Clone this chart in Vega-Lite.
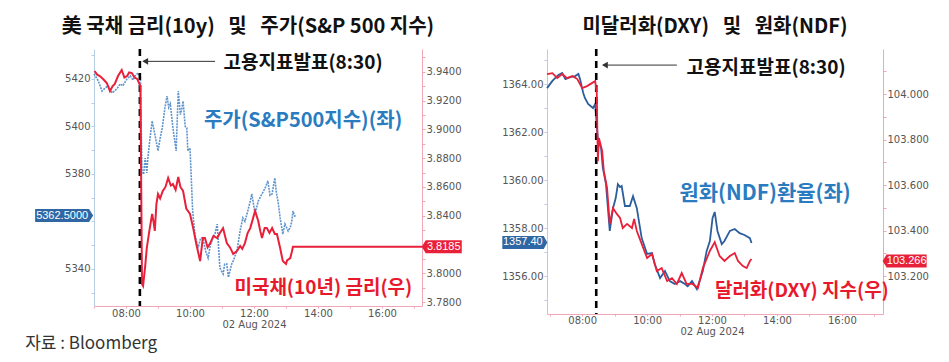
{
  "$schema": "https://vega.github.io/schema/vega-lite/v6.json",
  "autosize": {"type": "pad"},
  "padding": {"left": 25, "top": 16, "right": 2, "bottom": 2},
  "bounds": "flush",
  "spacing": 125,
  "config": {
    "view": {"stroke": null},
    "axis": {"grid": false, "labelFont": "DejaVu Sans", "labelFontSize": 10, "labelColor": "#555555", "tickSize": 3, "labelPadding": 1, "labelOverlap": false},
    "title": {"font": "Noto Sans CJK KR", "fontSize": 20, "fontWeight": "bold", "color": "#111111", "offset": 11, "anchor": "middle"}
  },
  "datasets": {
    "one": [{}],
    "spx": [
      {"t": "2024-08-02T07:00", "v": 5422.1}, {"t": "2024-08-02T07:08", "v": 5419.2}, {"t": "2024-08-02T07:15", "v": 5414.9}, {"t": "2024-08-02T07:21", "v": 5416.2},
      {"t": "2024-08-02T07:26", "v": 5417.1}, {"t": "2024-08-02T07:34", "v": 5414.1}, {"t": "2024-08-02T07:43", "v": 5415.8}, {"t": "2024-08-02T07:49", "v": 5417.9},
      {"t": "2024-08-02T07:54", "v": 5417.1}, {"t": "2024-08-02T08:02", "v": 5420.0}, {"t": "2024-08-02T08:08", "v": 5421.3}, {"t": "2024-08-02T08:13", "v": 5419.5},
      {"t": "2024-08-02T08:17", "v": 5421.3}, {"t": "2024-08-02T08:23", "v": 5422.5}, {"t": "2024-08-02T08:27", "v": 5420.4}, {"t": "2024-08-02T08:30", "v": 5381.3},
      {"t": "2024-08-02T08:33", "v": 5379.8}, {"t": "2024-08-02T08:36", "v": 5386.7}, {"t": "2024-08-02T08:39", "v": 5380.4}, {"t": "2024-08-02T08:41", "v": 5386.7},
      {"t": "2024-08-02T08:45", "v": 5395.0}, {"t": "2024-08-02T08:49", "v": 5402.3}, {"t": "2024-08-02T08:54", "v": 5396.8}, {"t": "2024-08-02T09:00", "v": 5389.7},
      {"t": "2024-08-02T09:04", "v": 5395.0}, {"t": "2024-08-02T09:08", "v": 5399.4}, {"t": "2024-08-02T09:13", "v": 5407.8}, {"t": "2024-08-02T09:17", "v": 5412.8},
      {"t": "2024-08-02T09:20", "v": 5408.0}, {"t": "2024-08-02T09:23", "v": 5409.5}, {"t": "2024-08-02T09:28", "v": 5399.4}, {"t": "2024-08-02T09:34", "v": 5389.7},
      {"t": "2024-08-02T09:38", "v": 5414.9}, {"t": "2024-08-02T09:42", "v": 5405.0}, {"t": "2024-08-02T09:45", "v": 5407.8}, {"t": "2024-08-02T09:47", "v": 5410.7},
      {"t": "2024-08-02T09:51", "v": 5400.0}, {"t": "2024-08-02T09:54", "v": 5399.4}, {"t": "2024-08-02T09:56", "v": 5389.7}, {"t": "2024-08-02T10:00", "v": 5390.9},
      {"t": "2024-08-02T10:05", "v": 5364.4}, {"t": "2024-08-02T10:09", "v": 5354.7}, {"t": "2024-08-02T10:15", "v": 5348.8}, {"t": "2024-08-02T10:20", "v": 5353.0},
      {"t": "2024-08-02T10:24", "v": 5353.1}, {"t": "2024-08-02T10:30", "v": 5347.0}, {"t": "2024-08-02T10:34", "v": 5344.6}, {"t": "2024-08-02T10:38", "v": 5350.0},
      {"t": "2024-08-02T10:43", "v": 5353.1}, {"t": "2024-08-02T10:47", "v": 5355.0}, {"t": "2024-08-02T10:51", "v": 5358.9}, {"t": "2024-08-02T10:56", "v": 5340.4},
      {"t": "2024-08-02T11:02", "v": 5337.9}, {"t": "2024-08-02T11:05", "v": 5342.0}, {"t": "2024-08-02T11:09", "v": 5342.1}, {"t": "2024-08-02T11:12", "v": 5336.5},
      {"t": "2024-08-02T11:15", "v": 5339.2}, {"t": "2024-08-02T11:18", "v": 5342.0}, {"t": "2024-08-02T11:21", "v": 5343.4}, {"t": "2024-08-02T11:28", "v": 5347.6},
      {"t": "2024-08-02T11:34", "v": 5356.0}, {"t": "2024-08-02T11:39", "v": 5361.5}, {"t": "2024-08-02T11:43", "v": 5360.0}, {"t": "2024-08-02T11:47", "v": 5363.2},
      {"t": "2024-08-02T11:53", "v": 5368.6}, {"t": "2024-08-02T11:56", "v": 5371.6}, {"t": "2024-08-02T12:02", "v": 5363.2}, {"t": "2024-08-02T12:08", "v": 5368.6},
      {"t": "2024-08-02T12:15", "v": 5371.6}, {"t": "2024-08-02T12:21", "v": 5374.1}, {"t": "2024-08-02T12:26", "v": 5377.1}, {"t": "2024-08-02T12:30", "v": 5371.0},
      {"t": "2024-08-02T12:34", "v": 5371.6}, {"t": "2024-08-02T12:39", "v": 5378.3}, {"t": "2024-08-02T12:42", "v": 5372.0}, {"t": "2024-08-02T12:45", "v": 5368.6},
      {"t": "2024-08-02T12:49", "v": 5361.5}, {"t": "2024-08-02T12:54", "v": 5354.7}, {"t": "2024-08-02T12:58", "v": 5358.9}, {"t": "2024-08-02T13:04", "v": 5356.0},
      {"t": "2024-08-02T13:08", "v": 5357.5}, {"t": "2024-08-02T13:11", "v": 5360.2}, {"t": "2024-08-02T13:13", "v": 5364.4}, {"t": "2024-08-02T13:16", "v": 5362.3},
      {"t": "2024-08-02T13:19", "v": 5362.5}
    ],
    "ust": [
      {"t": "2024-08-02T07:01", "v": 3.9405}, {"t": "2024-08-02T07:06", "v": 3.938}, {"t": "2024-08-02T07:11", "v": 3.937}, {"t": "2024-08-02T07:17", "v": 3.935},
      {"t": "2024-08-02T07:24", "v": 3.9322}, {"t": "2024-08-02T07:30", "v": 3.9266}, {"t": "2024-08-02T07:35", "v": 3.93}, {"t": "2024-08-02T07:39", "v": 3.9315},
      {"t": "2024-08-02T07:45", "v": 3.937}, {"t": "2024-08-02T07:52", "v": 3.9412}, {"t": "2024-08-02T07:57", "v": 3.936}, {"t": "2024-08-02T08:02", "v": 3.937},
      {"t": "2024-08-02T08:06", "v": 3.9395}, {"t": "2024-08-02T08:11", "v": 3.9391}, {"t": "2024-08-02T08:16", "v": 3.936}, {"t": "2024-08-02T08:21", "v": 3.935},
      {"t": "2024-08-02T08:27", "v": 3.9301}, {"t": "2024-08-02T08:30", "v": 3.7926}, {"t": "2024-08-02T08:32", "v": 3.7912}, {"t": "2024-08-02T08:36", "v": 3.805},
      {"t": "2024-08-02T08:39", "v": 3.8176}, {"t": "2024-08-02T08:44", "v": 3.83}, {"t": "2024-08-02T08:49", "v": 3.8412}, {"t": "2024-08-02T08:52", "v": 3.835},
      {"t": "2024-08-02T08:54", "v": 3.8294}, {"t": "2024-08-02T08:57", "v": 3.848}, {"t": "2024-08-02T09:00", "v": 3.8551}, {"t": "2024-08-02T09:04", "v": 3.852},
      {"t": "2024-08-02T09:09", "v": 3.8572}, {"t": "2024-08-02T09:14", "v": 3.86}, {"t": "2024-08-02T09:19", "v": 3.8662}, {"t": "2024-08-02T09:24", "v": 3.861},
      {"t": "2024-08-02T09:28", "v": 3.862}, {"t": "2024-08-02T09:33", "v": 3.858}, {"t": "2024-08-02T09:38", "v": 3.8669}, {"t": "2024-08-02T09:42", "v": 3.86},
      {"t": "2024-08-02T09:47", "v": 3.8572}, {"t": "2024-08-02T09:53", "v": 3.845}, {"t": "2024-08-02T10:00", "v": 3.8412}, {"t": "2024-08-02T10:06", "v": 3.8314},
      {"t": "2024-08-02T10:12", "v": 3.82}, {"t": "2024-08-02T10:19", "v": 3.8085}, {"t": "2024-08-02T10:24", "v": 3.8245}, {"t": "2024-08-02T10:28", "v": 3.8245},
      {"t": "2024-08-02T10:33", "v": 3.818}, {"t": "2024-08-02T10:38", "v": 3.821}, {"t": "2024-08-02T10:44", "v": 3.826}, {"t": "2024-08-02T10:51", "v": 3.8245},
      {"t": "2024-08-02T10:56", "v": 3.828}, {"t": "2024-08-02T11:02", "v": 3.8314}, {"t": "2024-08-02T11:09", "v": 3.821}, {"t": "2024-08-02T11:15", "v": 3.818},
      {"t": "2024-08-02T11:21", "v": 3.8134}, {"t": "2024-08-02T11:28", "v": 3.8155}, {"t": "2024-08-02T11:34", "v": 3.819}, {"t": "2024-08-02T11:38", "v": 3.817},
      {"t": "2024-08-02T11:43", "v": 3.821}, {"t": "2024-08-02T11:48", "v": 3.828}, {"t": "2024-08-02T11:53", "v": 3.8314}, {"t": "2024-08-02T11:58", "v": 3.838},
      {"t": "2024-08-02T12:02", "v": 3.8433}, {"t": "2024-08-02T12:08", "v": 3.8363}, {"t": "2024-08-02T12:12", "v": 3.829}, {"t": "2024-08-02T12:15", "v": 3.8245},
      {"t": "2024-08-02T12:20", "v": 3.8314}, {"t": "2024-08-02T12:24", "v": 3.8314}, {"t": "2024-08-02T12:29", "v": 3.828}, {"t": "2024-08-02T12:34", "v": 3.8314},
      {"t": "2024-08-02T12:39", "v": 3.8273}, {"t": "2024-08-02T12:43", "v": 3.8273}, {"t": "2024-08-02T12:49", "v": 3.8176}, {"t": "2024-08-02T12:54", "v": 3.8085},
      {"t": "2024-08-02T13:00", "v": 3.8065}, {"t": "2024-08-02T13:02", "v": 3.809}, {"t": "2024-08-02T13:08", "v": 3.8106}, {"t": "2024-08-02T13:11", "v": 3.815},
      {"t": "2024-08-02T13:13", "v": 3.8185}, {"t": "2024-08-02T17:15", "v": 3.8185}
    ],
    "ndf": [
      {"t": "2024-08-02T06:55", "v": 1363.83}, {"t": "2024-08-02T07:05", "v": 1364.13}, {"t": "2024-08-02T07:16", "v": 1364.38}, {"t": "2024-08-02T07:23", "v": 1364.46},
      {"t": "2024-08-02T07:29", "v": 1364.21}, {"t": "2024-08-02T07:38", "v": 1364.29}, {"t": "2024-08-02T07:47", "v": 1364.33}, {"t": "2024-08-02T07:53", "v": 1364.42},
      {"t": "2024-08-02T07:56", "v": 1364.21}, {"t": "2024-08-02T08:02", "v": 1363.63}, {"t": "2024-08-02T08:05", "v": 1363.42}, {"t": "2024-08-02T08:11", "v": 1363.17},
      {"t": "2024-08-02T08:20", "v": 1363.0}, {"t": "2024-08-02T08:24", "v": 1363.17}, {"t": "2024-08-02T08:27", "v": 1362.25}, {"t": "2024-08-02T08:29", "v": 1361.71},
      {"t": "2024-08-02T08:35", "v": 1361.33}, {"t": "2024-08-02T08:38", "v": 1360.54}, {"t": "2024-08-02T08:44", "v": 1359.83}, {"t": "2024-08-02T08:48", "v": 1358.71},
      {"t": "2024-08-02T08:51", "v": 1357.88}, {"t": "2024-08-02T08:57", "v": 1358.83}, {"t": "2024-08-02T09:02", "v": 1359.25}, {"t": "2024-08-02T09:06", "v": 1359.83},
      {"t": "2024-08-02T09:10", "v": 1359.71}, {"t": "2024-08-02T09:13", "v": 1359.75}, {"t": "2024-08-02T09:19", "v": 1358.92}, {"t": "2024-08-02T09:28", "v": 1358.92},
      {"t": "2024-08-02T09:34", "v": 1359.33}, {"t": "2024-08-02T09:41", "v": 1358.83}, {"t": "2024-08-02T09:50", "v": 1357.58}, {"t": "2024-08-02T10:00", "v": 1356.92},
      {"t": "2024-08-02T10:09", "v": 1356.96}, {"t": "2024-08-02T10:14", "v": 1356.5}, {"t": "2024-08-02T10:24", "v": 1355.92}, {"t": "2024-08-02T10:33", "v": 1356.21},
      {"t": "2024-08-02T10:42", "v": 1355.79}, {"t": "2024-08-02T10:51", "v": 1355.67}, {"t": "2024-08-02T11:01", "v": 1355.79}, {"t": "2024-08-02T11:10", "v": 1355.67},
      {"t": "2024-08-02T11:15", "v": 1355.58}, {"t": "2024-08-02T11:23", "v": 1355.79}, {"t": "2024-08-02T11:32", "v": 1355.46}, {"t": "2024-08-02T11:37", "v": 1355.79},
      {"t": "2024-08-02T11:43", "v": 1356.21}, {"t": "2024-08-02T11:50", "v": 1357.04}, {"t": "2024-08-02T11:56", "v": 1357.46}, {"t": "2024-08-02T12:01", "v": 1358.42},
      {"t": "2024-08-02T12:05", "v": 1358.67}, {"t": "2024-08-02T12:10", "v": 1357.88}, {"t": "2024-08-02T12:18", "v": 1357.33}, {"t": "2024-08-02T12:23", "v": 1357.46},
      {"t": "2024-08-02T12:33", "v": 1357.88}, {"t": "2024-08-02T12:42", "v": 1357.96}, {"t": "2024-08-02T12:51", "v": 1357.79}, {"t": "2024-08-02T13:00", "v": 1357.71},
      {"t": "2024-08-02T13:10", "v": 1357.58}, {"t": "2024-08-02T13:13", "v": 1357.38}
    ],
    "dxy": [
      {"t": "2024-08-02T06:55", "v": 104.088}, {"t": "2024-08-02T07:05", "v": 104.092}, {"t": "2024-08-02T07:14", "v": 104.07}, {"t": "2024-08-02T07:23", "v": 104.088},
      {"t": "2024-08-02T07:32", "v": 104.07}, {"t": "2024-08-02T07:42", "v": 104.079}, {"t": "2024-08-02T07:51", "v": 104.066}, {"t": "2024-08-02T08:00", "v": 104.026},
      {"t": "2024-08-02T08:09", "v": 104.035}, {"t": "2024-08-02T08:18", "v": 104.048}, {"t": "2024-08-02T08:24", "v": 104.057}, {"t": "2024-08-02T08:27", "v": 104.004},
      {"t": "2024-08-02T08:29", "v": 103.705}, {"t": "2024-08-02T08:31", "v": 103.807}, {"t": "2024-08-02T08:37", "v": 103.749}, {"t": "2024-08-02T08:40", "v": 103.662},
      {"t": "2024-08-02T08:46", "v": 103.587}, {"t": "2024-08-02T08:51", "v": 103.429}, {"t": "2024-08-02T08:57", "v": 103.499}, {"t": "2024-08-02T09:04", "v": 103.473},
      {"t": "2024-08-02T09:10", "v": 103.455}, {"t": "2024-08-02T09:15", "v": 103.411}, {"t": "2024-08-02T09:23", "v": 103.429}, {"t": "2024-08-02T09:32", "v": 103.411},
      {"t": "2024-08-02T09:36", "v": 103.451}, {"t": "2024-08-02T09:41", "v": 103.398}, {"t": "2024-08-02T09:50", "v": 103.341}, {"t": "2024-08-02T10:00", "v": 103.279},
      {"t": "2024-08-02T10:09", "v": 103.297}, {"t": "2024-08-02T10:18", "v": 103.222}, {"t": "2024-08-02T10:27", "v": 103.235}, {"t": "2024-08-02T10:37", "v": 103.178},
      {"t": "2024-08-02T10:46", "v": 103.191}, {"t": "2024-08-02T10:55", "v": 103.165}, {"t": "2024-08-02T11:04", "v": 103.213}, {"t": "2024-08-02T11:13", "v": 103.165},
      {"t": "2024-08-02T11:24", "v": 103.165}, {"t": "2024-08-02T11:34", "v": 103.147}, {"t": "2024-08-02T11:43", "v": 103.235}, {"t": "2024-08-02T11:56", "v": 103.31},
      {"t": "2024-08-02T12:05", "v": 103.349}, {"t": "2024-08-02T12:14", "v": 103.288}, {"t": "2024-08-02T12:23", "v": 103.266}, {"t": "2024-08-02T12:33", "v": 103.288},
      {"t": "2024-08-02T12:42", "v": 103.301}, {"t": "2024-08-02T12:48", "v": 103.266}, {"t": "2024-08-02T12:57", "v": 103.244}, {"t": "2024-08-02T13:04", "v": 103.235},
      {"t": "2024-08-02T13:10", "v": 103.266}, {"t": "2024-08-02T13:13", "v": 103.275}
    ]
  },
  "hconcat": [
    {
      "width": 328,
      "height": 257,
      "title": {"text": "美 국채 금리(10y)\u00a0\u00a0 및\u00a0\u00a0 주가(S&P 500 지수)", "dx": -10},
      "layer": [
        {
          "layer": [
            {
              "data": {"name": "spx"},
              "mark": {"type": "line", "color": "#5f93cc", "strokeWidth": 1.6, "strokeDash": [2, 1]},
              "encoding": {
                "x": {"field": "t", "type": "temporal",
                  "scale": {"domain": [{"year": 2024, "month": 8, "date": 2, "hours": 7}, {"year": 2024, "month": 8, "date": 2, "hours": 17, "minutes": 15}]},
                  "axis": {"title": null, "labelOverlap": false, "tickCount": 40, "values": [{"year": 2024, "month": 8, "date": 2, "hours": 7}, {"year": 2024, "month": 8, "date": 2, "hours": 8}, {"year": 2024, "month": 8, "date": 2, "hours": 9}, {"year": 2024, "month": 8, "date": 2, "hours": 10}, {"year": 2024, "month": 8, "date": 2, "hours": 11}, {"year": 2024, "month": 8, "date": 2, "hours": 12}, {"year": 2024, "month": 8, "date": 2, "hours": 13}, {"year": 2024, "month": 8, "date": 2, "hours": 14}, {"year": 2024, "month": 8, "date": 2, "hours": 15}, {"year": 2024, "month": 8, "date": 2, "hours": 16}, {"year": 2024, "month": 8, "date": 2, "hours": 17}],
                    "labelExpr": "hours(datum.value) % 2 == 0 ? (hours(datum.value) == 12 ? ['12:00', '02 Aug 2024'] : timeFormat(datum.value, '%H:%M')) : ''",
                    "domainColor": "#f2a7b8", "tickColor": "#f2a7b8", "tickSize": 2, "labelLineHeight": 11, "labelPadding": 0}},
                "y": {"field": "v", "type": "quantitative",
                  "scale": {"domain": [5324.4, 5432.6], "nice": false, "zero": false},
                  "axis": {"title": null, "labelOverlap": false, "tickCount": 40, "orient": "left", "values": [5330, 5340, 5350, 5360, 5370, 5380, 5390, 5400, 5410, 5420, 5430], "format": "d",
                    "labelExpr": "datum.value % 20 == 0 && datum.value != 5360 ? datum.label : ''", "domainColor": "#b7cde3", "tickColor": "#b7cde3"}}
              }
            },
            {
              "data": {"name": "one"},
              "mark": {"type": "rule", "color": "#000000", "strokeWidth": 2.6, "strokeDash": [7, 5]},
              "encoding": {
                "x": {"datum": {"year": 2024, "month": 8, "date": 2, "hours": 8, "minutes": 26}, "type": "temporal",
                  "scale": {"domain": [{"year": 2024, "month": 8, "date": 2, "hours": 7}, {"year": 2024, "month": 8, "date": 2, "hours": 17, "minutes": 15}]}}
              }
            },
            {
              "data": {"name": "one"},
              "mark": {"type": "rule", "color": "#333333", "strokeWidth": 1},
              "encoding": {
                "x": {"datum": {"year": 2024, "month": 8, "date": 2, "hours": 8, "minutes": 33}, "type": "temporal",
                  "scale": {"domain": [{"year": 2024, "month": 8, "date": 2, "hours": 7}, {"year": 2024, "month": 8, "date": 2, "hours": 17, "minutes": 15}]}},
                "x2": {"datum": {"year": 2024, "month": 8, "date": 2, "hours": 10, "minutes": 47}},
                "y": {"datum": 5427.4, "type": "quantitative", "scale": {"domain": [5324.4, 5432.6], "nice": false, "zero": false}}
              }
            },
            {
              "data": {"name": "one"},
              "mark": {"type": "point", "shape": "triangle-left", "filled": true, "color": "#333333", "size": 45, "opacity": 1},
              "encoding": {
                "x": {"datum": {"year": 2024, "month": 8, "date": 2, "hours": 8, "minutes": 36}, "type": "temporal",
                  "scale": {"domain": [{"year": 2024, "month": 8, "date": 2, "hours": 7}, {"year": 2024, "month": 8, "date": 2, "hours": 17, "minutes": 15}]}},
                "y": {"datum": 5427.4, "type": "quantitative", "scale": {"domain": [5324.4, 5432.6], "nice": false, "zero": false}}
              }
            },
            {
              "data": {"name": "one"},
              "mark": {"type": "text", "text": "고용지표발표(8:30)", "font": "Noto Sans CJK KR", "fontWeight": "bold", "fontSize": 19, "color": "#111111", "align": "center", "baseline": "middle"},
              "encoding": {
                "x": {"datum": {"year": 2024, "month": 8, "date": 2, "hours": 13, "minutes": 32}, "type": "temporal",
                  "scale": {"domain": [{"year": 2024, "month": 8, "date": 2, "hours": 7}, {"year": 2024, "month": 8, "date": 2, "hours": 17, "minutes": 15}]}},
                "y": {"datum": 5426.7, "type": "quantitative", "scale": {"domain": [5324.4, 5432.6], "nice": false, "zero": false}}
              }
            },
            {
              "data": {"name": "one"},
              "mark": {"type": "text", "text": "주가(S&P500지수)(좌)", "font": "Noto Sans CJK KR", "fontWeight": "bold", "fontSize": 20, "color": "#2a7bc0", "align": "center", "baseline": "middle"},
              "encoding": {
                "x": {"datum": {"year": 2024, "month": 8, "date": 2, "hours": 13, "minutes": 32}, "type": "temporal",
                  "scale": {"domain": [{"year": 2024, "month": 8, "date": 2, "hours": 7}, {"year": 2024, "month": 8, "date": 2, "hours": 17, "minutes": 15}]}},
                "y": {"datum": 5402.3, "type": "quantitative", "scale": {"domain": [5324.4, 5432.6], "nice": false, "zero": false}}
              }
            },
            {
              "data": {"name": "one"},
              "mark": {"type": "text", "text": "미국채(10년) 금리(우)", "font": "Noto Sans CJK KR", "fontWeight": "bold", "fontSize": 19, "color": "#e8192c", "align": "center", "baseline": "middle"},
              "encoding": {
                "x": {"datum": {"year": 2024, "month": 8, "date": 2, "hours": 14, "minutes": 10}, "type": "temporal",
                  "scale": {"domain": [{"year": 2024, "month": 8, "date": 2, "hours": 7}, {"year": 2024, "month": 8, "date": 2, "hours": 17, "minutes": 15}]}},
                "y": {"datum": 5332.0, "type": "quantitative", "scale": {"domain": [5324.4, 5432.6], "nice": false, "zero": false}}
              }
            },
            {
              "data": {"name": "one"},
              "mark": {"type": "text", "text": "자료 : Bloomberg", "font": "Noto Sans CJK KR", "fontSize": 17, "color": "#333333", "align": "left", "baseline": "middle"},
              "encoding": {
                "x": {"datum": {"year": 2024, "month": 8, "date": 2, "hours": 4, "minutes": 51}, "type": "temporal",
                  "scale": {"domain": [{"year": 2024, "month": 8, "date": 2, "hours": 7}, {"year": 2024, "month": 8, "date": 2, "hours": 17, "minutes": 15}]}},
                "y": {"datum": 5308.4, "type": "quantitative", "scale": {"domain": [5324.4, 5432.6], "nice": false, "zero": false}}
              }
            },
            {
              "data": {"name": "one"},
              "mark": {"type": "point", "shape": "M-1,-0.224L0.86,-0.224L1,0L0.86,0.224L-1,0.224Z", "filled": true, "color": "#2e67a4", "size": 3364, "opacity": 1},
              "encoding": {
                "x": {"datum": {"year": 2024, "month": 8, "date": 2, "hours": 6, "minutes": 4}, "type": "temporal",
                  "scale": {"domain": [{"year": 2024, "month": 8, "date": 2, "hours": 7}, {"year": 2024, "month": 8, "date": 2, "hours": 17, "minutes": 15}]}},
                "y": {"datum": 5362.5, "type": "quantitative", "scale": {"domain": [5324.4, 5432.6], "nice": false, "zero": false}}
              }
            },
            {
              "data": {"name": "one"},
              "mark": {"type": "text", "text": "5362.5000", "font": "Liberation Sans", "fontSize": 11, "color": "#ffffff", "align": "center", "baseline": "middle", "dx": -2},
              "encoding": {
                "x": {"datum": {"year": 2024, "month": 8, "date": 2, "hours": 6, "minutes": 4}, "type": "temporal",
                  "scale": {"domain": [{"year": 2024, "month": 8, "date": 2, "hours": 7}, {"year": 2024, "month": 8, "date": 2, "hours": 17, "minutes": 15}]}},
                "y": {"datum": 5362.5, "type": "quantitative", "scale": {"domain": [5324.4, 5432.6], "nice": false, "zero": false}}
              }
            }
          ]
        },
        {
          "layer": [
            {
              "data": {"name": "ust"},
              "mark": {"type": "line", "color": "#e8203a", "strokeWidth": 2},
              "encoding": {
                "x": {"field": "t", "type": "temporal",
                  "scale": {"domain": [{"year": 2024, "month": 8, "date": 2, "hours": 7}, {"year": 2024, "month": 8, "date": 2, "hours": 17, "minutes": 15}]}},
                "y": {"field": "v", "type": "quantitative",
                  "scale": {"domain": [3.7773, 3.9558], "nice": false, "zero": false},
                  "axis": {"title": null, "labelOverlap": false, "tickCount": 40, "orient": "right", "values": [3.78, 3.79, 3.8, 3.81, 3.82, 3.83, 3.84, 3.85, 3.86, 3.87, 3.88, 3.89, 3.9, 3.91, 3.92, 3.93, 3.94, 3.95],
                    "labelExpr": "round(datum.value * 100) % 2 == 0 && round(datum.value * 100) != 382 ? format(datum.value, '.4f') : ''", "domainColor": "#f2a7b8", "tickColor": "#f2a7b8"}}
              }
            },
            {
              "data": {"name": "one"},
              "mark": {"type": "point", "shape": "M1,-0.325L-0.8,-0.325L-1,0L-0.8,0.325L1,0.325Z", "filled": true, "color": "#e8203a", "size": 1600, "opacity": 1},
              "encoding": {
                "x": {"datum": {"year": 2024, "month": 8, "date": 2, "hours": 17, "minutes": 52}, "type": "temporal",
                  "scale": {"domain": [{"year": 2024, "month": 8, "date": 2, "hours": 7}, {"year": 2024, "month": 8, "date": 2, "hours": 17, "minutes": 15}]}},
                "y": {"datum": 3.8185, "type": "quantitative", "scale": {"domain": [3.7773, 3.9558], "nice": false, "zero": false}}
              }
            },
            {
              "data": {"name": "one"},
              "mark": {"type": "text", "text": "3.8185", "font": "Liberation Sans", "fontSize": 11, "color": "#ffffff", "align": "center", "baseline": "middle", "dx": 2},
              "encoding": {
                "x": {"datum": {"year": 2024, "month": 8, "date": 2, "hours": 17, "minutes": 52}, "type": "temporal",
                  "scale": {"domain": [{"year": 2024, "month": 8, "date": 2, "hours": 7}, {"year": 2024, "month": 8, "date": 2, "hours": 17, "minutes": 15}]}},
                "y": {"datum": 3.8185, "type": "quantitative", "scale": {"domain": [3.7773, 3.9558], "nice": false, "zero": false}}
              }
            }
          ]
        }
      ],
      "resolve": {"scale": {"y": "independent"}, "axis": {"y": "independent"}}
    },
    {
      "width": 336,
      "height": 265,
      "title": {"text": "미달러화(DXY)\u00a0\u00a0 및\u00a0\u00a0 원화(NDF)"},
      "layer": [
        {
          "layer": [
            {
              "data": {"name": "ndf"},
              "mark": {"type": "line", "color": "#2c5e9e", "strokeWidth": 1.8},
              "encoding": {
                "x": {"field": "t", "type": "temporal",
                  "scale": {"domain": [{"year": 2024, "month": 8, "date": 2, "hours": 6, "minutes": 55}, {"year": 2024, "month": 8, "date": 2, "hours": 17, "minutes": 16}]},
                  "axis": {"title": null, "labelOverlap": false, "tickCount": 40, "values": [{"year": 2024, "month": 8, "date": 2, "hours": 7}, {"year": 2024, "month": 8, "date": 2, "hours": 8}, {"year": 2024, "month": 8, "date": 2, "hours": 9}, {"year": 2024, "month": 8, "date": 2, "hours": 10}, {"year": 2024, "month": 8, "date": 2, "hours": 11}, {"year": 2024, "month": 8, "date": 2, "hours": 12}, {"year": 2024, "month": 8, "date": 2, "hours": 13}, {"year": 2024, "month": 8, "date": 2, "hours": 14}, {"year": 2024, "month": 8, "date": 2, "hours": 15}, {"year": 2024, "month": 8, "date": 2, "hours": 16}, {"year": 2024, "month": 8, "date": 2, "hours": 17}],
                    "labelExpr": "hours(datum.value) % 2 == 0 ? (hours(datum.value) == 12 ? ['12:00', '02 Aug 2024'] : timeFormat(datum.value, '%H:%M')) : ''",
                    "domainColor": "#f2a7b8", "tickColor": "#f2a7b8", "tickSize": 2, "labelLineHeight": 11, "labelPadding": -1}},
                "y": {"field": "v", "type": "quantitative",
                  "scale": {"domain": [1354.42, 1365.46], "nice": false, "zero": false},
                  "axis": {"title": null, "labelOverlap": false, "tickCount": 40, "orient": "left", "values": [1355, 1356, 1357, 1358, 1359, 1360, 1361, 1362, 1363, 1364, 1365],
                    "labelExpr": "datum.value % 2 == 0 ? format(datum.value, '.2f') : ''", "domainColor": "#b7cde3", "tickColor": "#b7cde3"}}
              }
            },
            {
              "data": {"name": "one"},
              "mark": {"type": "rule", "color": "#000000", "strokeWidth": 2.6, "strokeDash": [7, 5]},
              "encoding": {
                "x": {"datum": {"year": 2024, "month": 8, "date": 2, "hours": 8, "minutes": 26}, "type": "temporal",
                  "scale": {"domain": [{"year": 2024, "month": 8, "date": 2, "hours": 6, "minutes": 55}, {"year": 2024, "month": 8, "date": 2, "hours": 17, "minutes": 16}]}}
              }
            },
            {
              "data": {"name": "one"},
              "mark": {"type": "rule", "color": "#333333", "strokeWidth": 1},
              "encoding": {
                "x": {"datum": {"year": 2024, "month": 8, "date": 2, "hours": 8, "minutes": 39}, "type": "temporal",
                  "scale": {"domain": [{"year": 2024, "month": 8, "date": 2, "hours": 6, "minutes": 55}, {"year": 2024, "month": 8, "date": 2, "hours": 17, "minutes": 16}]}},
                "x2": {"datum": {"year": 2024, "month": 8, "date": 2, "hours": 10, "minutes": 55}},
                "y": {"datum": 1364.79, "type": "quantitative", "scale": {"domain": [1354.42, 1365.46], "nice": false, "zero": false}}
              }
            },
            {
              "data": {"name": "one"},
              "mark": {"type": "point", "shape": "triangle-left", "filled": true, "color": "#333333", "size": 45, "opacity": 1},
              "encoding": {
                "x": {"datum": {"year": 2024, "month": 8, "date": 2, "hours": 8, "minutes": 42}, "type": "temporal",
                  "scale": {"domain": [{"year": 2024, "month": 8, "date": 2, "hours": 6, "minutes": 55}, {"year": 2024, "month": 8, "date": 2, "hours": 17, "minutes": 16}]}},
                "y": {"datum": 1364.79, "type": "quantitative", "scale": {"domain": [1354.42, 1365.46], "nice": false, "zero": false}}
              }
            },
            {
              "data": {"name": "one"},
              "mark": {"type": "text", "text": "고용지표발표(8:30)", "font": "Noto Sans CJK KR", "fontWeight": "bold", "fontSize": 19, "color": "#111111", "align": "center", "baseline": "middle"},
              "encoding": {
                "x": {"datum": {"year": 2024, "month": 8, "date": 2, "hours": 13, "minutes": 40}, "type": "temporal",
                  "scale": {"domain": [{"year": 2024, "month": 8, "date": 2, "hours": 6, "minutes": 55}, {"year": 2024, "month": 8, "date": 2, "hours": 17, "minutes": 16}]}},
                "y": {"datum": 1364.67, "type": "quantitative", "scale": {"domain": [1354.42, 1365.46], "nice": false, "zero": false}}
              }
            },
            {
              "data": {"name": "one"},
              "mark": {"type": "text", "text": "원화(NDF)환율(좌)", "font": "Noto Sans CJK KR", "fontWeight": "bold", "fontSize": 21, "color": "#2a7bc0", "align": "center", "baseline": "middle"},
              "encoding": {
                "x": {"datum": {"year": 2024, "month": 8, "date": 2, "hours": 13, "minutes": 38}, "type": "temporal",
                  "scale": {"domain": [{"year": 2024, "month": 8, "date": 2, "hours": 6, "minutes": 55}, {"year": 2024, "month": 8, "date": 2, "hours": 17, "minutes": 16}]}},
                "y": {"datum": 1359.42, "type": "quantitative", "scale": {"domain": [1354.42, 1365.46], "nice": false, "zero": false}}
              }
            },
            {
              "data": {"name": "one"},
              "mark": {"type": "text", "text": "달러화(DXY) 지수(우)", "font": "Noto Sans CJK KR", "fontWeight": "bold", "fontSize": 19, "color": "#e8192c", "align": "center", "baseline": "middle"},
              "encoding": {
                "x": {"datum": {"year": 2024, "month": 8, "date": 2, "hours": 14, "minutes": 46}, "type": "temporal",
                  "scale": {"domain": [{"year": 2024, "month": 8, "date": 2, "hours": 6, "minutes": 55}, {"year": 2024, "month": 8, "date": 2, "hours": 17, "minutes": 16}]}},
                "y": {"datum": 1355.375, "type": "quantitative", "scale": {"domain": [1354.42, 1365.46], "nice": false, "zero": false}}
              }
            },
            {
              "data": {"name": "one"},
              "mark": {"type": "point", "shape": "M-1,-0.29L0.84,-0.29L1,0L0.84,0.29L-1,0.29Z", "filled": true, "color": "#2e67a4", "size": 2025, "opacity": 1},
              "encoding": {
                "x": {"datum": {"year": 2024, "month": 8, "date": 2, "hours": 6, "minutes": 14}, "type": "temporal",
                  "scale": {"domain": [{"year": 2024, "month": 8, "date": 2, "hours": 6, "minutes": 55}, {"year": 2024, "month": 8, "date": 2, "hours": 17, "minutes": 16}]}},
                "y": {"datum": 1357.4, "type": "quantitative", "scale": {"domain": [1354.42, 1365.46], "nice": false, "zero": false}}
              }
            },
            {
              "data": {"name": "one"},
              "mark": {"type": "text", "text": "1357.40", "font": "Liberation Sans", "fontSize": 11, "color": "#ffffff", "align": "center", "baseline": "middle", "dx": -2},
              "encoding": {
                "x": {"datum": {"year": 2024, "month": 8, "date": 2, "hours": 6, "minutes": 14}, "type": "temporal",
                  "scale": {"domain": [{"year": 2024, "month": 8, "date": 2, "hours": 6, "minutes": 55}, {"year": 2024, "month": 8, "date": 2, "hours": 17, "minutes": 16}]}},
                "y": {"datum": 1357.4, "type": "quantitative", "scale": {"domain": [1354.42, 1365.46], "nice": false, "zero": false}}
              }
            }
          ]
        },
        {
          "layer": [
            {
              "data": {"name": "dxy"},
              "mark": {"type": "line", "color": "#e8203a", "strokeWidth": 1.8},
              "encoding": {
                "x": {"field": "t", "type": "temporal",
                  "scale": {"domain": [{"year": 2024, "month": 8, "date": 2, "hours": 6, "minutes": 55}, {"year": 2024, "month": 8, "date": 2, "hours": 17, "minutes": 16}]}},
                "y": {"field": "v", "type": "quantitative",
                  "scale": {"domain": [103.033, 104.198], "nice": false, "zero": false},
                  "axis": {"title": null, "labelOverlap": false, "tickCount": 40, "orient": "right", "values": [103.1, 103.2, 103.3, 103.4, 103.5, 103.6, 103.7, 103.8, 103.9, 104.0, 104.1],
                    "labelExpr": "round(datum.value * 10) % 2 == 0 ? format(datum.value, '.3f') : ''", "domainColor": "#f2a7b8", "tickColor": "#f2a7b8"}}
              }
            },
            {
              "data": {"name": "one"},
              "mark": {"type": "point", "shape": "M1,-0.3L-0.82,-0.3L-1,0L-0.82,0.3L1,0.3Z", "filled": true, "color": "#e8203a", "size": 1936, "opacity": 1},
              "encoding": {
                "x": {"datum": {"year": 2024, "month": 8, "date": 2, "hours": 17, "minutes": 56}, "type": "temporal",
                  "scale": {"domain": [{"year": 2024, "month": 8, "date": 2, "hours": 6, "minutes": 55}, {"year": 2024, "month": 8, "date": 2, "hours": 17, "minutes": 16}]}},
                "y": {"datum": 103.266, "type": "quantitative", "scale": {"domain": [103.033, 104.198], "nice": false, "zero": false}}
              }
            },
            {
              "data": {"name": "one"},
              "mark": {"type": "text", "text": "103.266", "font": "Liberation Sans", "fontSize": 11, "color": "#ffffff", "align": "center", "baseline": "middle", "dx": 2},
              "encoding": {
                "x": {"datum": {"year": 2024, "month": 8, "date": 2, "hours": 17, "minutes": 56}, "type": "temporal",
                  "scale": {"domain": [{"year": 2024, "month": 8, "date": 2, "hours": 6, "minutes": 55}, {"year": 2024, "month": 8, "date": 2, "hours": 17, "minutes": 16}]}},
                "y": {"datum": 103.266, "type": "quantitative", "scale": {"domain": [103.033, 104.198], "nice": false, "zero": false}}
              }
            }
          ]
        }
      ],
      "resolve": {"scale": {"y": "independent"}, "axis": {"y": "independent"}}
    }
  ]
}
